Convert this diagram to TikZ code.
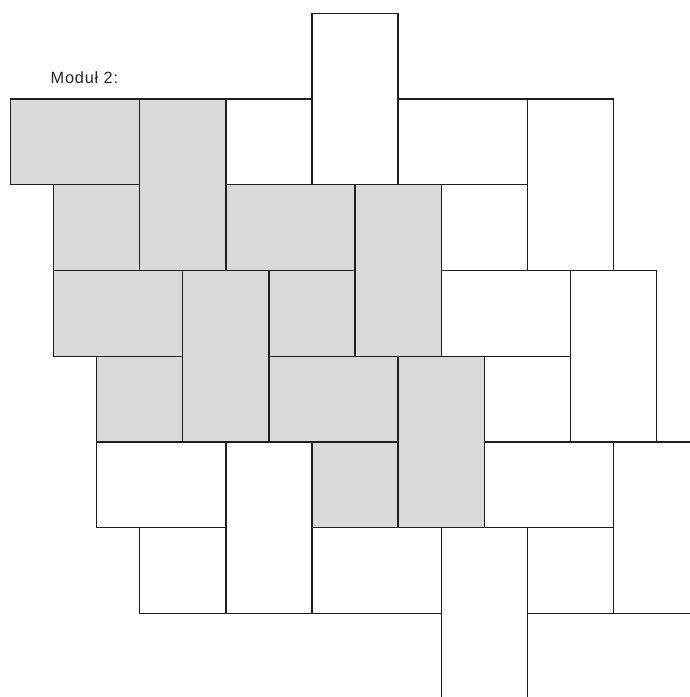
\documentclass[tikz,border=0pt]{standalone}
\usepackage{fontspec}
\setmainfont{Liberation Sans}
\definecolor{tilegray}{HTML}{D9D9D9}
\definecolor{edgecol}{HTML}{1E1E1E}
\tikzset{
  shtile/.style={fill=tilegray,draw=edgecol,line width=1.3pt},
  wttile/.style={fill=white,draw=edgecol,line width=1.3pt},
}
\newcommand{\tileat}[5]{\draw[#5] (#1,#2) rectangle ++(#3,#4);}
\begin{document}
\begin{tikzpicture}[x=1pt,y=-1pt]
\useasboundingbox (0,0) rectangle (690,697);
\clip (0,0) rectangle (690,697);
\node[anchor=base west,inner sep=0,font=\fontsize{16.3}{19}\selectfont\addfontfeatures{LetterSpace=5},text=black!85] (label) at (50.5,83.5) {Moduł 2:};
\begin{scope}[shift={(10.5pt,-13.3pt)},x=43.07pt,y=-42.86pt]
% white tiles
\tileat{7}{0}{2}{4}{wttile}
\tileat{5}{2}{2}{2}{wttile}
\tileat{9}{2}{3}{2}{wttile}
\tileat{12}{2}{2}{4}{wttile}
\tileat{10}{4}{2}{2}{wttile}
\tileat{10}{6}{3}{2}{wttile}
\tileat{13}{6}{2}{4}{wttile}
\tileat{11}{8}{2}{2}{wttile}
\tileat{2}{10}{3}{2}{wttile}
\tileat{5}{10}{2}{4}{wttile}
\tileat{11}{10}{3}{2}{wttile}
\tileat{14}{10}{2}{4}{wttile}
\tileat{3}{12}{2}{2}{wttile}
\tileat{7}{12}{3}{2}{wttile}
\tileat{10}{12}{2}{4}{wttile}
\tileat{12}{12}{2}{2}{wttile}
\tileat{12}{14}{5}{2}{wttile}
% shaded module
\tileat{0}{2}{3}{2}{shtile}
\tileat{3}{2}{2}{4}{shtile}
\tileat{1}{4}{2}{2}{shtile}
\tileat{5}{4}{3}{2}{shtile}
\tileat{8}{4}{2}{4}{shtile}
\tileat{1}{6}{3}{2}{shtile}
\tileat{4}{6}{2}{4}{shtile}
\tileat{6}{6}{2}{2}{shtile}
\tileat{2}{8}{2}{2}{shtile}
\tileat{6}{8}{3}{2}{shtile}
\tileat{9}{8}{2}{4}{shtile}
\tileat{7}{10}{2}{2}{shtile}
\end{scope}
\end{tikzpicture}
\end{document}
